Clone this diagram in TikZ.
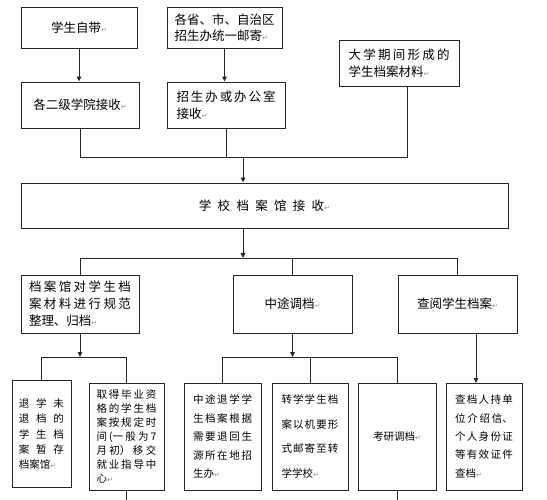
\documentclass[tikz,border=0pt]{standalone}
\usepackage{fontspec}
\setmainfont{Noto Sans CJK SC}
\newfontfamily\retfont{DejaVu Sans}
\usepackage{tikz}
\usetikzlibrary{arrows.meta,positioning,calc}
\XeTeXlinebreaklocale "zh"
\XeTeXlinebreakskip=0pt plus 1fil
\newcommand{\retmark}{{\retfont\fontsize{7}{7}\selectfont\color{black!45}↵}}
\newcommand{\jtext}[1]{\parindent=0pt\leftskip=0pt\rightskip=0pt\parfillskip=0pt plus 1fill\relax #1\par}

\begin{document}
\begin{tikzpicture}[
    x=1pt, y=-1pt,
    box/.style={rectangle, draw=black!85, line width=0.9pt, inner sep=0pt, font={\fontsize{12.5}{16.5}\selectfont}},
    small/.style={box, minimum height=107pt, font={\fontsize{10.5}{18}\selectfont}},
    arrow/.style={-{Triangle[length=5pt,width=4.5pt]}, line width=0.9pt, black!85},
    link/.style={line width=0.9pt, black!85}
]
    \useasboundingbox (0,0) rectangle (547,500);

    % Where the files come from
    \node[box, minimum width=116pt, minimum height=41pt] (zidai) at (79,27.5) {学生自带\retmark};
    \node[box, minimum width=115pt, minimum height=41pt, text width=100pt] (youji) at (224.5,27.5) {\jtext{各省、市、自治区\linebreak 招生办统一邮寄\retmark}};
    \node[box, minimum width=118pt, minimum height=46pt] (xueyuan) at (80,105) {各二级学院接收\retmark};
    \node[box, minimum width=118pt, minimum height=46pt, text width=99pt] (zhaoban) at (226,105) {\jtext{招生办或办公室\linebreak 接收\retmark}};
    \node[box, minimum width=120pt, minimum height=46pt, text width=101pt] (cailiao) at (399,63) {\jtext{大学期间形成的\linebreak 学生档案材料\retmark}};

    % School archive
    \node[box, minimum width=487pt, minimum height=45pt, text width=400pt, align=center, font={\fontsize{12.5}{16.5}\selectfont\XeTeXlinebreakskip=6.3pt\relax}] (guan) at (264.5,205.5) {学校档案馆接收\retmark};

    % Three branches
    \node[box, minimum width=118pt, minimum height=58pt, text width=102pt, font={\fontsize{12.5}{17}\selectfont}] (zhengli) at (80,304) {\jtext{档案馆对学生档\linebreak 案材料进行规范\linebreak 整理、归档\retmark}};
    \node[box, minimum width=119pt, minimum height=58pt] (zhongtu) at (292.5,304) {中途调档\retmark};
    \node[box, minimum width=119pt, minimum height=58pt] (chayue) at (457.5,304) {查阅学生档案\retmark};

    % Final destinations
    \node[small, minimum width=59pt, text width=45pt, font={\fontsize{10.5}{15.3}\selectfont}] (tuixue) at (41.5,434) {\jtext{退学未\linebreak 退档的\linebreak 学生档\linebreak 案暂存\linebreak 档案馆\retmark}};
    \node[small, minimum width=75pt, text width=60pt, font={\fontsize{10.5}{14}\selectfont}] (biye) at (126.5,436.5) {\jtext{取得毕业资\linebreak 格的学生档\linebreak 案按规定时\linebreak 间(一般为7\linebreak 月初）移交\linebreak 就业指导中\linebreak 心\retmark}};
    \node[small, minimum width=77pt, text width=59pt, font={\fontsize{10.5}{18.5}\selectfont}] (tuihui) at (222.5,436.5) {\jtext{中途退学学\linebreak 生档案根据\linebreak 需要退回生\linebreak 源所在地招\linebreak 生办\retmark}};
    \node[small, minimum width=76pt, text width=57pt, font={\fontsize{10.5}{24.5}\selectfont}] (zhuanxue) at (310,436.5) {\jtext{转学学生档\linebreak 案以机要形\linebreak 式邮寄至转\linebreak 学学校\retmark}};
    \node[small, minimum width=78pt] (kaoyan) at (397,436.5) {考研调档\retmark};
    \node[small, minimum width=76pt, text width=58pt, font={\fontsize{10.5}{18.3}\selectfont}] (chadang) at (484,436.5) {\jtext{查档人持单\linebreak 位介绍信、\linebreak 个人身份证\linebreak 等有效证件\linebreak 查档\retmark}};

    % Into the school archive
    \draw[arrow] (zidai.south) -- (zidai.south |- xueyuan.north);
    \draw[arrow] (youji.south) -- (youji.south |- zhaoban.north);
    \coordinate (bus1) at (243,157);
    \coordinate (bus1r) at (407,157);
    \draw[link] (xueyuan.south) |- (bus1r) -- (bus1r |- cailiao.south);
    \draw[link] (zhaoban.south) -- (zhaoban.south |- bus1);
    \draw[arrow] (bus1) -- (bus1 |- guan.north);

    % Out to the branches
    \coordinate (bus2) at (243,258);
    \draw[arrow] (bus2 |- guan.south) -- (bus2);
    \draw[link] (zhengli.north) |- (bus2 -| chayue.north) -- (chayue.north);
    \draw[link] (zhongtu.north) -- (zhongtu.north |- bus2);

    % Branch outcomes
    \coordinate (bus3) at (80,357);
    \draw[arrow] (zhengli.south) -- (bus3);
    \draw[link] (tuixue.north) |- (bus3 -| biye.north) -- (biye.north);
    \coordinate (bus4) at (292.5,357);
    \draw[arrow] (zhongtu.south) -- (bus4);
    \draw[link] (tuihui.north) |- (bus4 -| kaoyan.north) -- (kaoyan.north);
    \draw[link] (zhuanxue.north) -- (zhuanxue.north |- bus4);
    \coordinate (drop) at (476,383);
    \draw[arrow] (drop |- chayue.south) -- (drop);

    % Lines running off the page
    \coordinate (edge) at (0,500);
    \draw[link] (biye.south) -- (biye.south |- edge);
    \draw[link] (kaoyan.south) -- (kaoyan.south |- edge);
\end{tikzpicture}
\end{document}
